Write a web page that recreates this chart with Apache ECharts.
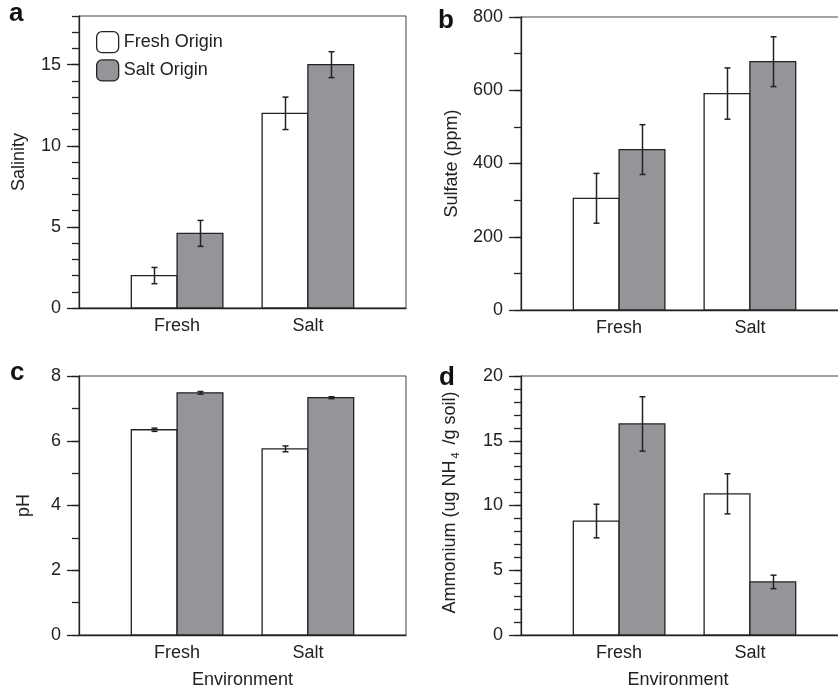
<!DOCTYPE html>
<html>
<head>
<meta charset="utf-8">
<script src="https://cdn.jsdelivr.net/npm/echarts@6/dist/echarts.min.js"></script>
<style>
  html, body { margin: 0; padding: 0; background: #fff; }
  #chart { width: 838px; height: 691px; }
</style>
</head>
<body>
<div id="chart"></div>
<script>
// ---- data ----
const categories = ['Fresh', 'Salt'];
const seriesNames = ['Fresh Origin', 'Salt Origin'];

const salinityFresh = [2.0, 12.0];
const salinityFreshErr = [0.5, 1.0];
const salinitySalt = [4.6, 15.0];
const salinitySaltErr = [0.8, 0.8];

const sulfateFresh = [305, 591];
const sulfateFreshErr = [68, 70];
const sulfateSalt = [438, 678];
const sulfateSaltErr = [68, 68];

const phFresh = [6.34, 5.75];
const phFreshErr = [0.05, 0.09];
const phSalt = [7.48, 7.33];
const phSaltErr = [0.04, 0.03];

const ammoniumFresh = [8.8, 10.9];
const ammoniumFreshErr = [1.3, 1.55];
const ammoniumSalt = [16.3, 4.1];
const ammoniumSaltErr = [2.1, 0.52];

const salinityTicks = [0, 5, 10, 15];
const sulfateTicks = [0, 200, 400, 600, 800];
const phTicks = [0, 2, 4, 6, 8];
const ammoniumTicks = [0, 5, 10, 15, 20];

// ---- layout / style ----
const FONT = "'Liberation Sans', Arial, Helvetica, sans-serif";
const INK = '#222';
const GREY = '#939598';
const catPos = [0.3, 0.7];   // category centres on the 0..1 x scale
const BW = 0.14;             // bar width on the x scale

const panels = [
  { grid: { left: 79, top: 16, width: 327, height: 292 }, max: 18, minor: 1, ticks: salinityTicks,
    name: 'Salinity', nameGap: 51, fresh: salinityFresh, freshErr: salinityFreshErr, salt: salinitySalt, saltErr: salinitySaltErr, xName: '' },
  { grid: { left: 521, top: 17, width: 327, height: 293 }, max: 800, minor: 100, ticks: sulfateTicks,
    name: 'Sulfate (ppm)', nameGap: 60, fresh: sulfateFresh, freshErr: sulfateFreshErr, salt: sulfateSalt, saltErr: sulfateSaltErr, xName: '' },
  { grid: { left: 79, top: 376, width: 327, height: 259 }, max: 8, minor: 1, ticks: phTicks,
    name: 'pH', nameGap: 46, fresh: phFresh, freshErr: phFreshErr, salt: phSalt, saltErr: phSaltErr, xName: 'Environment' },
  { grid: { left: 521, top: 376, width: 327, height: 259 }, max: 20, minor: 1, ticks: ammoniumTicks,
    name: '{t|Ammonium (ug NH}{s|4}{t| /g soil)}', nameGap: 60, namePad: [0, 0, 0, 6],
    fresh: ammoniumFresh, freshErr: ammoniumFreshErr, salt: ammoniumSalt, saltErr: ammoniumSaltErr, xName: 'Environment', xPad: [0, 13, 0, 0] }
];

const grids = [], xAxes = [], yAxes = [], series = [];

function barSeries(name, idx, values, errs, side, fill) {
  return {
    type: 'custom',
    name: name,
    xAxisIndex: idx,
    yAxisIndex: idx * 2,
    itemStyle: { color: fill, borderColor: INK, borderWidth: 1.3 },
    data: values.map((v, i) => [catPos[i], v, errs[i]]),
    encode: { x: 0, y: 1 },
    renderItem: function (params, api) {
      const c = api.value(0), v = api.value(1), e = api.value(2);
      const xa = side < 0 ? c - BW : c;
      const xb = side < 0 ? c : c + BW;
      const p0 = api.coord([xa, 0]);
      const p1 = api.coord([xb, v]);
      const mid = api.coord([(xa + xb) / 2, v + e]);
      const low = api.coord([(xa + xb) / 2, v - e]);
      const cx = Math.round(mid[0]) + 0.5;
      const cap = 3;
      const ls = { stroke: INK, lineWidth: 1.5 };
      return {
        type: 'group',
        children: [
          { type: 'rect', shape: { x: p0[0], y: p1[1], width: p1[0] - p0[0], height: p0[1] - p1[1] },
            style: { fill: fill, stroke: INK, lineWidth: 1.3 } },
          { type: 'line', shape: { x1: cx, y1: mid[1], x2: cx, y2: low[1] }, style: ls },
          { type: 'line', shape: { x1: cx - cap, y1: mid[1], x2: cx + cap, y2: mid[1] }, style: ls },
          { type: 'line', shape: { x1: cx - cap, y1: low[1], x2: cx + cap, y2: low[1] }, style: ls }
        ]
      };
    }
  };
}

panels.forEach((p, i) => {
  grids.push(Object.assign({ show: true, borderColor: '#444', borderWidth: 1, backgroundColor: 'transparent',
    outerBoundsMode: 'none', containLabel: false }, p.grid));
  xAxes.push({
    type: 'value', gridIndex: i, min: 0, max: 1,
    name: p.xName, nameLocation: 'middle', nameGap: 36,
    nameTextStyle: { fontFamily: FONT, fontSize: 18, color: INK, padding: p.xPad || 0 },
    axisLine: { show: true, lineStyle: { color: INK, width: 1.3 } },
    axisTick: { show: false },
    splitLine: { show: false },
    axisLabel: {
      customValues: catPos,
      margin: 9,
      fontFamily: FONT, fontSize: 18, color: INK,
      formatter: function (v) {
        let best = 0;
        catPos.forEach((c, k) => { if (Math.abs(c - v) < Math.abs(catPos[best] - v)) best = k; });
        return categories[best];
      }
    }
  });
  // major axis: line, long ticks, labels
  yAxes.push({
    type: 'value', gridIndex: i, position: 'left', min: 0, max: p.max,
    name: p.name, nameLocation: 'middle', nameGap: p.nameGap,
    nameTextStyle: {
      fontFamily: FONT, fontSize: 18, color: INK, padding: p.namePad || 0,
      rich: {
        t: { fontFamily: FONT, fontSize: 18, color: INK },
        s: { fontFamily: FONT, fontSize: 11, color: INK, verticalAlign: 'bottom', padding: [10, 3, 0, 2] }
      }
    },
    axisLine: { show: true, lineStyle: { color: INK, width: 1.3 } },
    axisTick: { show: true, customValues: p.ticks, length: 12, lineStyle: { color: INK, width: 1.3 } },
    axisLabel: { customValues: p.ticks, margin: 18, fontFamily: FONT, fontSize: 18, color: INK },
    splitLine: { show: false }
  });
  // minor axis: short ticks only
  yAxes.push({
    type: 'value', gridIndex: i, position: 'left', min: 0, max: p.max, interval: p.minor,
    axisLine: { show: false },
    axisTick: { show: true, length: 7, lineStyle: { color: INK, width: 1.3 } },
    axisLabel: { show: false },
    splitLine: { show: false }
  });
  series.push(barSeries(seriesNames[0], i, p.fresh, p.freshErr, -1, '#ffffff'));
  series.push(barSeries(seriesNames[1], i, p.salt, p.saltErr, 1, GREY));
});

const letterStyle = { fontFamily: FONT, fontSize: 26, fontWeight: 'bold', color: '#111' };
const option = {
  animation: false,
  backgroundColor: '#fff',
  title: [
    { text: 'a', left: 9, top: 1, padding: 0, textStyle: letterStyle },
    { text: 'b', left: 438, top: 8, padding: 0, textStyle: letterStyle },
    { text: 'c', left: 10, top: 360, padding: 0, textStyle: letterStyle },
    { text: 'd', left: 439, top: 365, padding: 0, textStyle: letterStyle }
  ],
  legend: {
    orient: 'vertical', left: 96, top: 31, padding: 0,
    itemWidth: 22, itemHeight: 21, itemGap: 6,
    icon: 'roundRect',
    textStyle: { fontFamily: FONT, fontSize: 18, color: INK },
    data: [
      { name: seriesNames[0], itemStyle: { color: '#ffffff', borderColor: INK, borderWidth: 1.3 } },
      { name: seriesNames[1], itemStyle: { color: GREY, borderColor: INK, borderWidth: 1.3 } }
    ]
  },
  grid: grids,
  xAxis: xAxes,
  yAxis: yAxes,
  series: series
};

const chart = echarts.init(document.getElementById('chart'), null, { renderer: 'canvas' });
chart.setOption(option);
</script>
</body>
</html>
